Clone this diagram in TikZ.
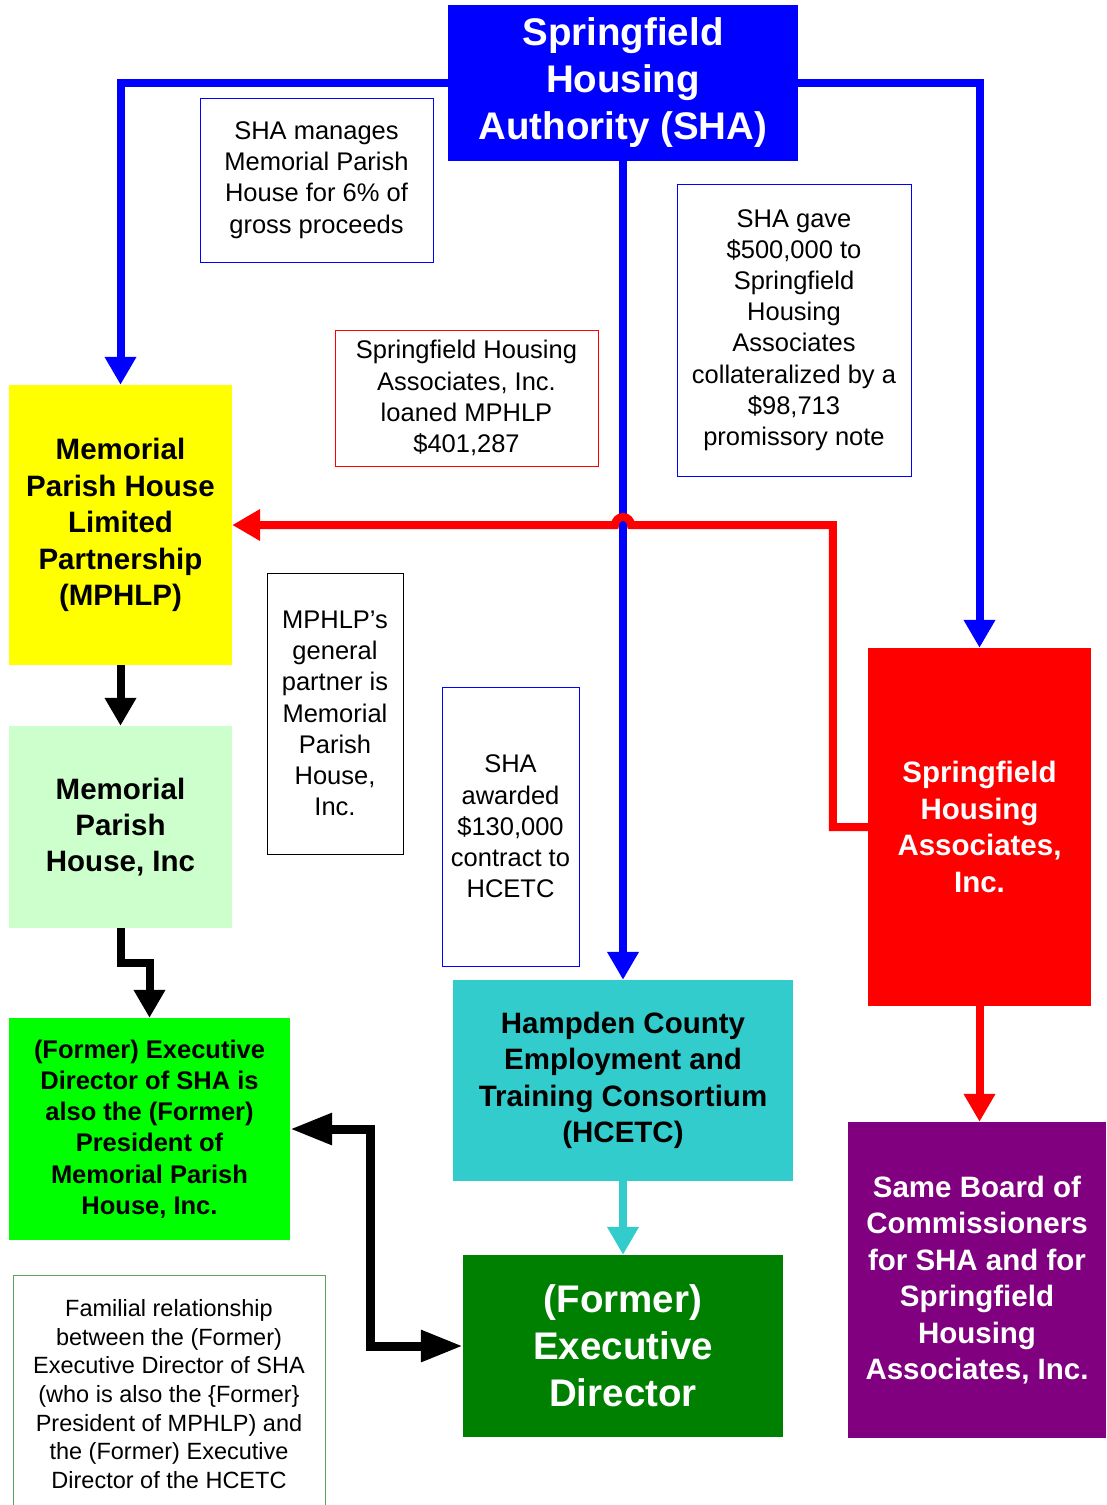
\documentclass[tikz,border=0pt]{standalone}
\usepackage{fontspec}
\setmainfont{Liberation Sans}
\usetikzlibrary{arrows.meta,calc}

\definecolor{shablue}{RGB}{0,0,255}
\definecolor{mpyellow}{RGB}{255,255,0}
\definecolor{mpgreen}{RGB}{204,255,204}
\definecolor{exgreen}{RGB}{0,255,0}
\definecolor{hcteal}{RGB}{51,204,204}
\definecolor{dkgreen}{RGB}{0,128,0}
\definecolor{assocred}{RGB}{255,0,0}
\definecolor{brdpurple}{RGB}{128,0,128}
\definecolor{famgreen}{RGB}{90,165,90}

\tikzset{
	orgbox/.style={draw=none, align=center, inner sep=0pt, font=\bfseries},
	notebox/.style={draw, line width=1pt, align=center, inner sep=0pt, font=\fontsize{25.5}{31.2}\selectfont},
	link/.style={line width=8pt, -{Triangle[width=30pt,length=28pt]}},
	bigtitle/.style={font=\bfseries\fontsize{38.5}{47}\selectfont},
	midtitle/.style={font=\bfseries\fontsize{29.5}{36.4}\selectfont}
}

\begin{document}
\begin{tikzpicture}[x=1pt,y=1pt,yscale=-1,xscale=1]
	\useasboundingbox (0,0) rectangle (1107,1505);

	%Shape: Rectangle [SHA]
	\node[orgbox, bigtitle, fill=shablue, text=white, minimum width=350pt, minimum height=156pt] (sha) at (623,83) {Springfield\\Housing\\Authority (SHA)};
	%Shape: Rectangle [MPHLP]
	\node[orgbox, midtitle, fill=mpyellow, minimum width=223pt, minimum height=280pt] (mphlp) at (120.5,525) {Memorial\\Parish House\\Limited\\Partnership\\(MPHLP)};
	%Shape: Rectangle [Memorial Parish House, Inc]
	\node[orgbox, midtitle, fill=mpgreen, minimum width=223pt, minimum height=202pt] (mphinc) at (120.5,827) {Memorial\\Parish\\House, Inc};
	%Shape: Rectangle [former director of SHA]
	\node[orgbox, font=\bfseries\fontsize{25.5}{31.2}\selectfont, fill=exgreen, minimum width=281pt, minimum height=222pt] (fsha) at (149.5,1129) {(Former) Executive\\Director of SHA is\\also the (Former)\\President of\\Memorial Parish\\House, Inc.};
	%Shape: Rectangle [HCETC]
	\node[orgbox, midtitle, fill=hcteal, minimum width=340pt, minimum height=201pt] (hcetc) at (623,1080.5) {Hampden County\\Employment and\\Training Consortium\\(HCETC)};
	%Shape: Rectangle [former director of HCETC]
	\node[orgbox, bigtitle, fill=dkgreen, text=white, minimum width=320pt, minimum height=182pt] (fed) at (623,1346) {(Former)\\Executive\\Director};
	%Shape: Rectangle [Springfield Housing Associates]
	\node[orgbox, midtitle, fill=assocred, text=white, minimum width=223pt, minimum height=358pt] (shaa) at (979.5,827) {Springfield\\Housing\\Associates,\\Inc.};
	%Shape: Rectangle [board]
	\node[orgbox, midtitle, fill=brdpurple, text=white, minimum width=258pt, minimum height=316pt] (board) at (977,1280) {Same Board of\\Commissioners\\for SHA and for\\Springfield\\Housing\\Associates, Inc.};

	% Text Node
	\node[notebox, draw=shablue, minimum width=233pt, minimum height=164pt] (mgmt) at (316.5,180) {SHA manages\\Memorial Parish\\House for 6\% of\\gross proceeds};
	% Text Node
	\node[notebox, draw=assocred, minimum width=263pt, minimum height=136pt] (loan) at (466.5,398) {Springfield Housing\\Associates, Inc.\\loaned MPHLP\\\$401,287};
	% Text Node
	\node[notebox, draw=shablue, minimum width=234pt, minimum height=292pt] (gift) at (794,330) {SHA gave\\\$500,000 to\\Springfield\\Housing\\Associates\\collateralized by a\\\$98,713\\promissory note};
	% Text Node
	\node[notebox, draw=black, minimum width=136pt, minimum height=281pt] (partner) at (335,713.5) {MPHLP’s\\general\\partner is\\Memorial\\Parish\\House,\\Inc.};
	% Text Node
	\node[notebox, draw=shablue, minimum width=137pt, minimum height=279pt] (award) at (510.5,826.5) {SHA\\awarded\\\$130,000\\contract to\\HCETC};
	% Text Node
	\node[notebox, draw=famgreen, font=\fontsize{23.5}{28.7}\selectfont, minimum width=312pt, minimum height=238pt] (family) at (169,1394) {Familial relationship\\between the (Former)\\Executive Director of SHA\\(who is also the \{Former\}\\President of MPHLP) and\\the (Former) Executive\\Director of the HCETC};

	% Connectors
	\draw[link, shablue] (sha.west) -| (mphlp.north);
	\draw[link, shablue] (sha.east) -| (shaa.north);
	\draw[link, shablue] (sha.south) -- (hcetc.north);
	\draw[link, black] (mphlp.south) -- (mphinc.north);
	\draw[link, black] (mphinc.south) -- ++(0,35) -| (fsha.north);
	\draw[line width=9pt, black, {Triangle[width=30pt,length=42pt]}-{Triangle[width=30pt,length=42pt]}] (fsha.east) -- ++(80,0) |- (fed.west);
	\draw[link, hcteal] (hcetc.south) -- (fed.north);
	\draw[link, assocred] (shaa.south) -- (shaa.south |- board.north);
	\draw[link, assocred] (shaa.west) -- ++(-35,0) coordinate (rbend) -- (rbend |- mphlp.east)
		-- ($(sha.south |- mphlp.east)+(8,0)$) arc[start angle=0, end angle=-180, radius=8] -- (mphlp.east);

\end{tikzpicture}
\end{document}
